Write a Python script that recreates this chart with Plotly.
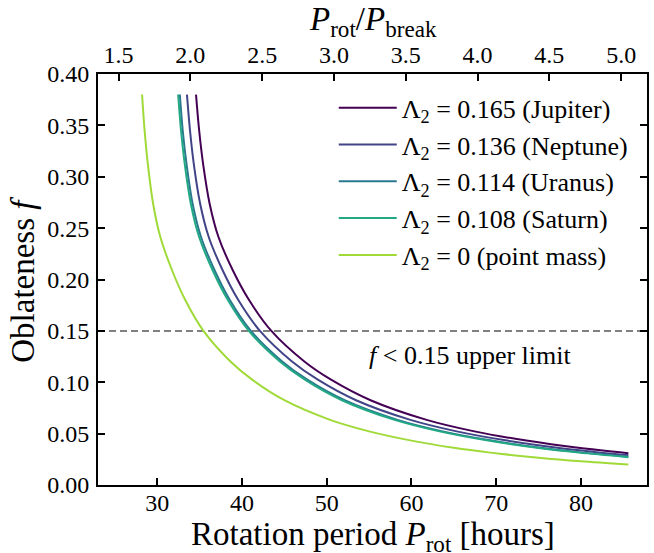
import plotly.graph_objects as go

# ---- data ----
p_point = [28.2, 28.5, 28.9, 29.5, 30.35, 31.74, 33.3, 35.47, 38.6, 41.2, 45.0, 50.4, 55.0, 60.0, 65.0, 69.3, 75.0, 80.0, 85.6]
f_point = [0.380, 0.345, 0.311, 0.274, 0.2416, 0.209, 0.180, 0.1497, 0.1205, 0.1025, 0.0825, 0.0634, 0.0522, 0.0432, 0.0362, 0.0315, 0.0265, 0.0230, 0.0199]

p_saturn = [32.46, 32.80, 33.26, 33.95, 34.93, 36.53, 38.33, 40.83, 44.43, 47.42, 51.80, 58.01, 63.31, 69.06, 74.82, 79.76, 85.6]
f_saturn = [0.380, 0.345, 0.311, 0.274, 0.2416, 0.209, 0.180, 0.1497, 0.1205, 0.1025, 0.0825, 0.0634, 0.0522, 0.0432, 0.0362, 0.0315, 0.0271]

p_uranus = [32.66, 33.00, 33.47, 34.16, 35.15, 36.76, 38.56, 41.07, 44.70, 47.71, 52.11, 58.36, 63.69, 69.48, 75.27, 80.25, 85.6]
f_uranus = [0.380, 0.345, 0.311, 0.274, 0.2416, 0.209, 0.180, 0.1497, 0.1205, 0.1025, 0.0825, 0.0634, 0.0522, 0.0432, 0.0362, 0.0315, 0.0275]

p_neptune = [33.50, 33.86, 34.33, 35.05, 36.06, 37.71, 39.56, 42.14, 45.86, 48.95, 53.46, 59.88, 65.34, 71.28, 77.22, 82.33, 85.6]
f_neptune = [0.380, 0.345, 0.311, 0.274, 0.2416, 0.209, 0.180, 0.1497, 0.1205, 0.1025, 0.0825, 0.0634, 0.0522, 0.0432, 0.0362, 0.0315, 0.0291]

p_jupiter = [34.57, 34.94, 35.43, 36.17, 37.21, 38.91, 40.83, 43.49, 47.32, 50.51, 55.17, 61.79, 67.43, 73.56, 79.69, 85.6]
f_jupiter = [0.380, 0.345, 0.311, 0.274, 0.2416, 0.209, 0.180, 0.1497, 0.1205, 0.1025, 0.0825, 0.0634, 0.0522, 0.0432, 0.0362, 0.0310]

series_names = ["Λ<sub>2</sub> = 0.165 (Jupiter)", "Λ<sub>2</sub> = 0.136 (Neptune)",
                "Λ<sub>2</sub> = 0.114 (Uranus)", "Λ<sub>2</sub> = 0.108 (Saturn)",
                "Λ<sub>2</sub> = 0 (point mass)"]
series_colors = ["#440154", "#414487", "#2a788e", "#22a884", "#a0da39"]

x_ticks = [30, 40, 50, 60, 70, 80]
top_ticks = [1.5, 2.0, 2.5, 3.0, 3.5, 4.0, 4.5, 5.0]
y_ticks = [0.00, 0.05, 0.10, 0.15, 0.20, 0.25, 0.30, 0.35, 0.40]
f_limit = 0.15
p_break = 16.95
x_range = [23.0, 87.8]

FONT = "Liberation Serif"

fig = go.Figure()

# dashed limit line
fig.add_trace(go.Scatter(x=x_range, y=[f_limit, f_limit], mode="lines",
                         line=dict(color="#808080", width=2, dash="7px,4px"),
                         showlegend=False, hoverinfo="skip"))

all_p = [p_jupiter, p_neptune, p_uranus, p_saturn, p_point]
all_f = [f_jupiter, f_neptune, f_uranus, f_saturn, f_point]
for i, (pp, ff) in enumerate(zip(all_p, all_f)):
    fig.add_trace(go.Scatter(x=pp, y=ff, mode="lines", name=series_names[i],
                             line=dict(color=series_colors[i], width=2, shape="spline", smoothing=0.9),
                             legendgroup=str(i)))

# invisible trace for the top axis
fig.add_trace(go.Scatter(x=[top_ticks[0], top_ticks[-1]], y=[-1, -1], xaxis="x2",
                         mode="lines", line=dict(width=0), showlegend=False, hoverinfo="skip"))

fig.add_annotation(x=0.677, y=0.126, xref="paper", yref="y", xanchor="center", yanchor="middle",
                   text="<i>f</i> &lt; 0.15 upper limit", showarrow=False,
                   font=dict(family=FONT, size=26, color="black"))

# axis titles
fig.add_annotation(x=0.5, y=-0.1245, xref="paper", yref="paper", xanchor="center", yanchor="middle",
                   text="Rotation period <i>P</i><sub>rot</sub> [hours]", showarrow=False,
                   font=dict(family=FONT, size=33, color="black"))
fig.add_annotation(x=0.5, y=1.128, xref="paper", yref="paper", xanchor="center", yanchor="middle",
                   text="<i>P</i><sub>rot</sub>/<i>P</i><sub>break</sub>", showarrow=False,
                   font=dict(family=FONT, size=33, color="black"))
fig.add_annotation(x=-0.138, y=0.5, xref="paper", yref="paper", xanchor="center", yanchor="middle",
                   text="Oblateness <i>f</i>", showarrow=False, textangle=-90,
                   font=dict(family=FONT, size=33, color="black"))

axis_common = dict(showgrid=False, zeroline=False, ticks="inside", ticklen=7, tickwidth=1.5,
                   tickcolor="black", automargin=False,
                   tickfont=dict(family=FONT, size=24, color="black"))

fig.update_layout(
    width=654, height=553,
    margin=dict(l=98, r=7, t=74, b=68),
    paper_bgcolor="white", plot_bgcolor="white",
    font=dict(family=FONT, color="black"),
    xaxis=dict(range=x_range, tickvals=x_ticks, showline=True, linewidth=2, linecolor="black",
               mirror=True, ticklabelstandoff=-5, **axis_common),
    xaxis2=dict(range=[x_range[0] / p_break, x_range[1] / p_break], overlaying="x", side="top",
                tickvals=top_ticks, tickformat=".1f", showline=False, ticklabelstandoff=5,
                **axis_common),
    yaxis=dict(range=[0, 0.40], tickvals=y_ticks, tickformat=".2f", showline=True, linewidth=2,
               linecolor="black", mirror="ticks", ticklabelstandoff=2, **axis_common),
    legend=dict(x=0.4294, y=0.975, xanchor="left", yanchor="top", bgcolor="rgba(0,0,0,0)",
                font=dict(family=FONT, size=26), tracegroupgap=0, traceorder="grouped",
                itemwidth=58),
)

fig.write_html("out.html", config={"displayModeBar": False},
               post_script="document.body.style.margin='0px';document.body.style.overflow='hidden';")
